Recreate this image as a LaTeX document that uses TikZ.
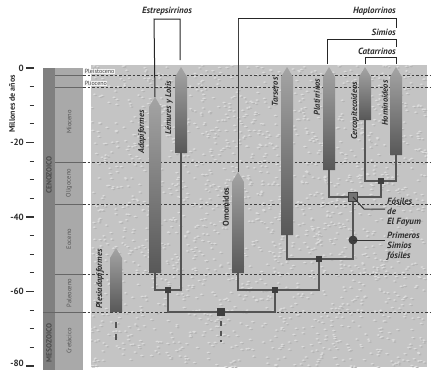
\documentclass[tikz,border=0pt]{standalone}
\usepackage{fontspec}
\setmainfont{PT Sans}
\definecolor{bgtex}{HTML}{C4C4C4}
\definecolor{erastrip}{HTML}{808080}
\definecolor{epostrip}{HTML}{A9A9A9}
\definecolor{eratext}{HTML}{4A4A4A}
\definecolor{epotext}{HTML}{555555}
\definecolor{connc}{HTML}{555555}
\definecolor{nodec}{HTML}{3E3E3E}
\definecolor{bartop}{HTML}{A4A4A4}
\definecolor{barbot}{HTML}{585858}
\definecolor{txt}{HTML}{2E2E2E}
\begin{document}
\begin{tikzpicture}[x=1pt,y=-1pt,
  epochline/.style={draw=black!75, line width=0.7pt, dash pattern=on 2.5pt off 2pt},
  colline/.style={draw=black!60, line width=0.6pt},
  conn/.style={draw=connc, line width=2.6pt, line cap=rect},
  brk/.style={draw=black!85, line width=1pt},
  thinl/.style={draw=black!75, line width=0.9pt},
  ptr/.style={draw=black!80, line width=1pt},
  barlbl/.style={font=\fontsize{8.5}{9}\selectfont\bfseries\itshape, text=txt, rotate=90, inner sep=0pt},
  toplbl/.style={font=\fontsize{9}{10}\selectfont\bfseries\itshape, text=txt, inner sep=0pt},
  sidelbl/.style={font=\fontsize{9}{10}\selectfont\bfseries\itshape, text=txt, inner sep=0pt, align=left, anchor=west},
  epolbl/.style={font=\fontsize{6.5}{7}\selectfont, text=epotext, rotate=90, inner sep=0pt},
  eralbl/.style={font=\fontsize{7.5}{8}\selectfont\bfseries, text=eratext, rotate=90, inner sep=0pt},
  ticklbl/.style={font=\fontsize{9}{10}\selectfont\bfseries, text=txt, anchor=east, inner sep=0pt},
  jn/.style={fill=nodec, minimum size=6.5pt, inner sep=0pt, draw=none},
  jbig/.style={fill=nodec, minimum size=8pt, inner sep=0pt, draw=none},
  fayb/.style={fill=black!55, draw=nodec, line width=1pt, minimum size=9pt, inner sep=0pt},
  primc/.style={circle, fill=nodec, minimum size=9pt, inner sep=0pt},
  dashv/.style={draw=connc, line width=1.3pt, dash pattern=on 6pt off 6pt}
]
\useasboundingbox (0,0) rectangle (431,370);
\fill[white] (0,0) rectangle (431,370);
% textured background
\fill[bgtex] (91,65) rectangle (427,367);
\pgfmathsetseed{11}
\begin{scope}
\clip (91,65) rectangle (427,367);
\foreach \i in {1,...,1800}{
  \pgfmathsetmacro\rx{91+rnd*336}\pgfmathsetmacro\ry{65+rnd*302}
  \fill[white!40!bgtex] (\rx,\ry) ellipse (1.8pt and 0.9pt);
  \fill[black!8!bgtex] (\rx+1.2,\ry+1.1) ellipse (1.6pt and 0.8pt);
}
\end{scope}
% geologic column
\fill[erastrip] (43,68) rectangle (55,370);
\fill[epostrip] (55,68) rectangle (83,370);
\foreach \yy in {75,87,162,204,274} \draw[colline] (55,\yy) -- (83,\yy);
\draw[colline] (43,312) -- (83,312);
% epoch dashed lines
\foreach \yy in {75,87,162,204,274,312} \draw[epochline] (83,\yy) -- (431,\yy);
% epoch / era labels
\node[epolbl] (mio) at (69,122) {Mioceno};
\node[epolbl] (oli) at (69,183) {Oligoceno};
\node[epolbl] (eoc) at (69,239) {Eoceno};
\node[epolbl] (pal) at (69,293) {Paleoceno};
\node[epolbl] (cre) at (69,341) {Cretácico};
\node[eralbl] (ceno) at (49,175) {CENOZOICO};
\node[eralbl] (meso) at (49,343) {MESOZOICO};
\node[font=\fontsize{6}{6}\selectfont, text=black!75, anchor=south west, inner sep=0.6pt, fill=white!80!bgtex] (ple) at (84,74.5) {Pleistoceno};
\node[font=\fontsize{6}{6}\selectfont, text=black!75, anchor=south west, inner sep=0.6pt, fill=white!80!bgtex] (pli) at (84,86.5) {Plioceno};
% axis
\node[font=\fontsize{8}{9}\selectfont\bfseries, text=txt, rotate=90, inner sep=0pt] (ylab) at (12,104) {Millones de años};
\foreach \t/\lab in {0/0,20/-20,40/-40,60/-60}{
  \draw[black!80, line width=1.2pt] (26,68+\t*3.725) -- (34,68+\t*3.725);
  \node[ticklbl] at (24,68+\t*3.725) {\lab};
}
\draw[black!80, line width=1.2pt] (26,366) -- (34,366);
\node[ticklbl] (m80) at (24,363.5) {-80};
\foreach \t in {5,10,15,25,30,35,45,50,55,65,70,75}
  \draw[black!80, line width=1.2pt] (29.5,68+\t*3.725) -- (34,68+\t*3.725);
% lineage bars
\newcommand\lineage[4]{%
  \shade[top color=bartop, bottom color=barbot] (#2-6,#4) -- (#2-6,#3+10) -- (#2,#3) -- (#2+6,#3+10) -- (#2+6,#4) -- cycle;
  \coordinate (#1-t) at (#2,#3);
  \coordinate (#1-b) at (#2,#4);}
\lineage{ple}{116}{248}{312}
\lineage{ada}{155}{97}{273}
\lineage{lem}{181}{67}{153}
\lineage{omo}{238}{172}{273}
\lineage{tar}{287}{67}{235}
\lineage{pla}{329}{67}{170}
\lineage{cer}{365}{67}{120}
\lineage{hom}{396}{67}{155}
% bar labels
\node[barlbl] (plel) at (100,279) {Plesiadapiformes};
\node[barlbl] (adal) at (142,132) {Adapiformes};
\node[barlbl] (leml) at (169,108) {Lémures y Loris};
\node[font=\fontsize{8.5}{9}\selectfont\bfseries, text=txt, rotate=90, inner sep=0pt] (omol) at (226,207) {Omomidos};
\node[barlbl] (tarl) at (275,92) {Tarseros};
\node[barlbl] (plal) at (317,97) {Platirrinos};
\node[barlbl] (cerl) at (355,111) {Cercopitecoideos};
\node[barlbl] (homl) at (385,103) {Hominoideos};
% junction coordinates
\coordinate (j1) at (168,290);
\coordinate (j0) at (221,312);
\coordinate (j2) at (275,290);
\coordinate (j3) at (319,259);
\coordinate (fay) at (353,197);
\coordinate (prim) at (353,240);
\coordinate (j5) at (381,181);
% connectors
\draw[conn] (ada-b) |- (j1) -| (lem-b);
\draw[conn] (j1) |- (j0) -| (j2);
\draw[conn] (omo-b) |- (j2) -| (j3);
\draw[conn] (tar-b) |- (j3) -| (fay);
\draw[conn] (pla-b) |- (fay) -| (j5);
\draw[conn] (cer-b) |- (j5) -| (hom-b);
% junction nodes
\node[jn] (n1) at (j1) {};
\node[jbig] (n0) at (j0) {};
\node[jn] (n2) at (j2) {};
\node[jn] (n3) at (j3) {};
\node[jn] (n5) at (j5) {};
\node[fayb] (nfay) at (fay) {};
\node[primc] (nprim) at (prim) {};
% dashed stems
\coordinate (pled) at (116,343);
\draw[dashv] (116,322) -- (pled);
\coordinate (j0d) at (221,342);
\draw[dashv, dash pattern=on 5pt off 4.5pt] (n0.south) ++(0,5) -- (j0d);
% side labels & pointers
\node[sidelbl] (faylbl) at (387,212) {Fósiles\\de\\El Fayum};
\node[sidelbl] (primlbl) at (387,246) {Primeros\\Simios\\fósiles};
\coordinate (fayk) at (364,209);
\coordinate (fayp) at (385,209);
\draw[ptr] (nfay.center) -- (fayk) -- (fayp);
\coordinate (primp) at (385,240);
\draw[ptr] (nprim.center) -- (primp);
% top brackets
\node[toplbl] (estr) at (167,11) {Estrepsirrinos};
\coordinate (e1) at (154,19); \coordinate (e2) at (180,19); \coordinate (e2b) at (180,60);
\draw[brk] (ada-t) -- (e1) -- (e2) -- (e2b);
\node[toplbl, anchor=east] (hapl) at (396,11) {Haplorrinos};
\coordinate (h1) at (238,18); \coordinate (h2) at (396,18); \coordinate (h2b) at (396,28);
\draw[thinl] (omo-t) -- (h1);
\draw[brk] (h1) -- (h2) -- (h2b);
\node[toplbl, anchor=east] (simi) at (396,32) {Simios};
\coordinate (s1) at (327,64); \coordinate (s2) at (327,39); \coordinate (s3) at (396,39); \coordinate (s4) at (396,47);
\draw[brk] (s1) -- (s2) -- (s3) -- (s4);
\node[toplbl, anchor=east] (cata) at (396,51) {Catarrinos};
\coordinate (c1) at (365,64); \coordinate (c2) at (365,57); \coordinate (c3) at (396,57); \coordinate (c4) at (396,64);
\draw[brk] (c1) -- (c2) -- (c3) -- (c4);
\end{tikzpicture}
\end{document}
